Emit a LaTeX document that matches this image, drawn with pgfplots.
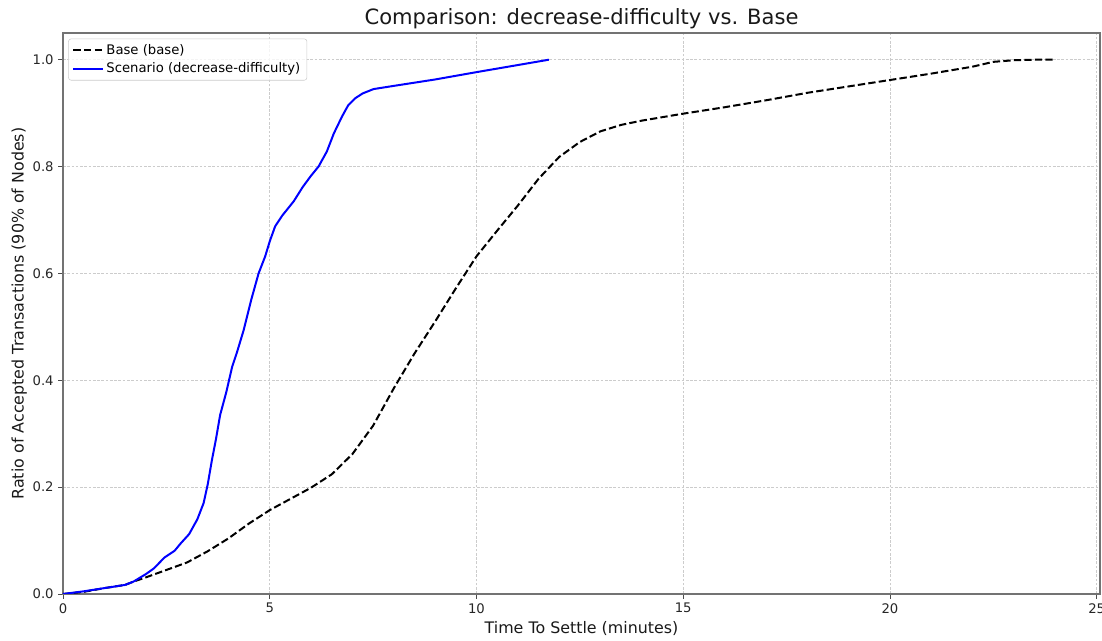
\documentclass[border=0pt]{standalone}
\usepackage{fontspec}
\setmainfont{DejaVu Sans}
\usepackage{pgfplots}
\pgfplotsset{compat=1.18}
\begin{document}
\begin{tikzpicture}
\begin{axis}[
  scale only axis,
  width=777.75pt, height=420.75pt,
  xmin=0, xmax=25.08, ymin=0, ymax=1.05,
  xtick={0,5,10,15,20,25},
  ytick={0,0.2,0.4,0.6,0.8,1.0},
  /pgf/number format/assume math mode=true,
  yticklabel style={/pgf/number format/fixed,/pgf/number format/precision=1,/pgf/number format/fixed zerofill},
  ticklabel style={font=\fontsize{9.9}{11}\selectfont, text=black!85},
  tick align=outside, tick pos=left,
  major tick length=3.5pt,
  every tick/.style={black!70, line width=0.6pt},
  axis line style={black!55, line width=0.8pt},
  grid=major,
  major grid style={gray!40, dash pattern=on 2pt off 1.2pt, line width=0.5pt},
  title={Comparison: decrease-difficulty vs. Base},
  title style={font=\fontsize{15.8}{18}\selectfont, text=black!90, yshift=-6.5pt},
  xlabel={Time To Settle (minutes)},
  ylabel={Ratio of Accepted Transactions (90\% of Nodes)},
  label style={font=\fontsize{11.9}{14}\selectfont, text=black!90},
  xlabel style={yshift=1pt},
  ylabel style={yshift=-2.5pt},
  legend pos=north west,
  legend cell align=left,
  legend style={font=\fontsize{9.9}{12}\selectfont, draw=black!20, rounded corners=2pt, fill=white, fill opacity=0.8, text opacity=1, at={(0.005,0.99)}, anchor=north west, inner xsep=3pt, inner ysep=2pt, row sep=1pt},
  legend image code/.code={\draw[#1] (0pt,0pt) -- (22pt,0pt);},
]
\addplot[black, line width=1.5pt, dash pattern=on 5.5pt off 2.4pt] coordinates {
(0,0)(0.5,0.004)(1,0.011)(1.5,0.017)(1.7,0.023)(2,0.031)(2.5,0.045)(3,0.059)(3.5,0.08)(4,0.104)(4.5,0.132)(5,0.157)(5.5,0.178)(6,0.199)(6.5,0.224)(7,0.262)(7.5,0.315)(8,0.385)(8.5,0.45)(9,0.51)(9.5,0.572)(10,0.632)(10.5,0.68)(11,0.727)(11.5,0.777)(12,0.818)(12.5,0.846)(13,0.866)(13.5,0.878)(14,0.886)(15,0.899)(16,0.911)(17,0.924)(18,0.938)(19,0.95)(20,0.962)(21,0.974)(22,0.987)(22.5,0.996)(23,0.999)(23.5,1.0)(24,1.0)
};
\addlegendentry{Base (base)}
\addplot[blue, line width=1.5pt] coordinates {
(0,0)(0.5,0.005)(1,0.011)(1.5,0.017)(1.7,0.023)(2,0.037)(2.2,0.048)(2.45,0.068)(2.7,0.081)(2.85,0.095)(3.05,0.112)(3.25,0.14)(3.4,0.17)(3.5,0.205)(3.6,0.25)(3.7,0.29)(3.8,0.335)(3.95,0.378)(4.09,0.425)(4.21,0.453)(4.37,0.494)(4.55,0.55)(4.73,0.60)(4.89,0.632)(5.0,0.66)(5.13,0.688)(5.3,0.708)(5.58,0.735)(5.8,0.762)(6.0,0.783)(6.18,0.80)(6.38,0.828)(6.55,0.862)(6.75,0.894)(6.9,0.915)(7.07,0.928)(7.25,0.937)(7.51,0.945)(8,0.951)(9,0.963)(10.02,0.977)(11,0.99)(11.75,1.0)
};
\addlegendentry{Scenario (decrease-difficulty)}
\end{axis}
\pgfresetboundingbox
\path[use as bounding box] ([xshift=-47.25pt,yshift=-35.25pt]current axis.south west) rectangle ([xshift=1.5pt,yshift=24.75pt]current axis.north east);
\end{tikzpicture}
\end{document}
